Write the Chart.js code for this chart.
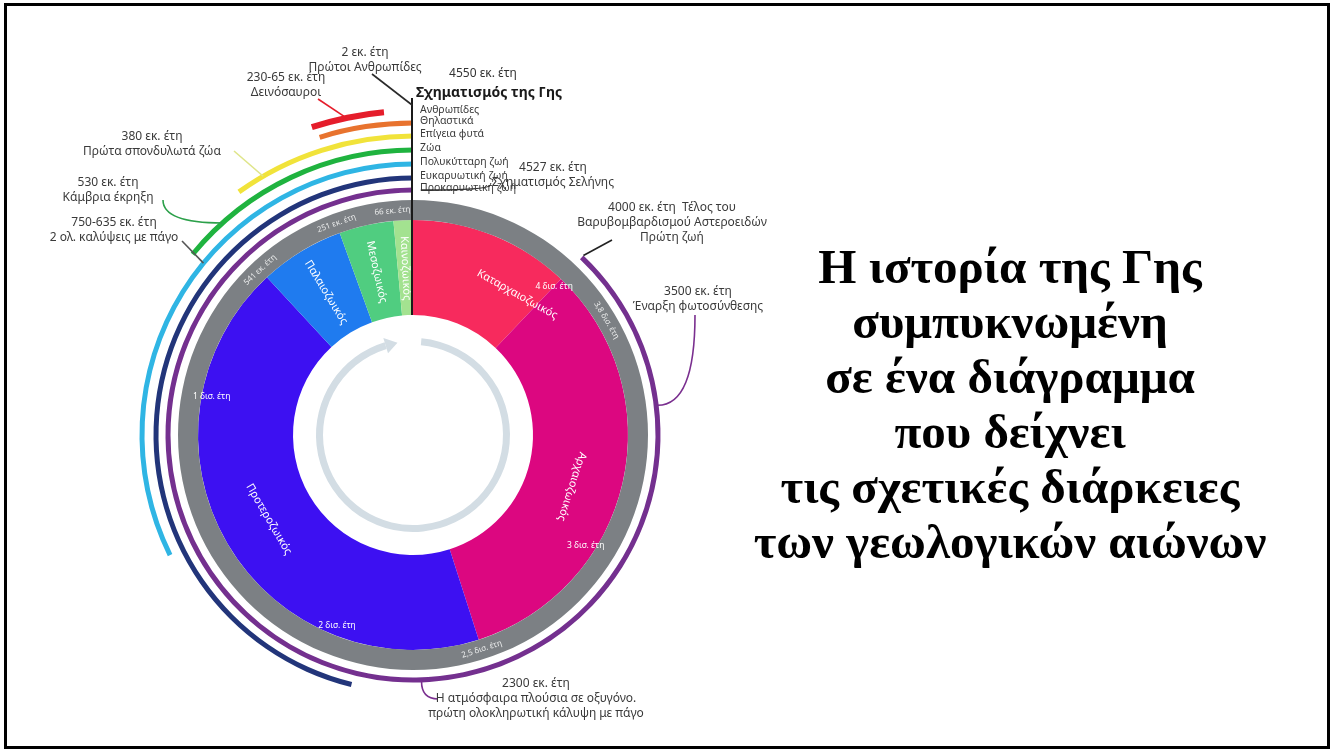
<!DOCTYPE html>
<html lang="el">
<head>
<meta charset="utf-8">
<title>Η ιστορία της Γης</title>
<script src="https://cdn.jsdelivr.net/npm/chart.js@4.4.1/dist/chart.umd.min.js"></script>
<style>
  html, body { margin: 0; padding: 0; background: #fff; overflow: hidden; }
  body { width: 1333px; height: 751px; position: relative; }
  #clock { position: absolute; left: 0; top: 0; }
  #title {
    position: absolute; left: 700px; top: 239px; width: 620px;
    text-align: center; color: #000;
    font: bold 49px "Liberation Serif", "Times New Roman", serif;
    line-height: 55px;
  }
  #frame {
    position: absolute; left: 4px; top: 3px; width: 1326px; height: 746px;
    box-sizing: border-box; border: 3px solid #000; pointer-events: none;
  }
</style>
</head>
<body>
<canvas id="clock" width="826" height="870"></canvas>
<div id="title"></div>
<div id="frame"></div>
<script>
// time runs clockwise from the top: 4550 million years ago -> today
const earthAgeMa = 4550;

const eonNames = ['Καταρχαιοζωικός', 'Αρχαιοζωικός', 'Προτεροζωικός', 'Παλαιοζωικός', 'Μεσοζωικός', 'Καινοζωικός'];
const eonStartMa = [4550, 4000, 2500, 541, 252, 66];
const eonEndMa = [4000, 2500, 541, 252, 66, 0];
const eonColors = ['#f72a5d', '#dc0780', '#3d10f2', '#1f7bef', '#50cd80', '#a3e290'];

// life arcs, outer to inner, each runs from its origin to today
const lifeNames = ['Θηλαστικά', 'Επίγεια φυτά', 'Ζώα', 'Πολυκύτταρη ζωή', 'Ευκαρυωτική ζωή', 'Προκαρυωτική ζωή'];
const lifeOriginMa = [220, 450, 640, 1470, 2100, 4000];
const lifeColors = ['#e8732e', '#f1e33a', '#1fb33f', '#2fb5e4', '#22357a', '#74308f'];

const dinoMa = [230, 65];
const hominidMa = 2;

const innerTickMa = [4000, 3000, 2000, 1000];
const innerTickLabels = ['4 δισ. έτη', '3 δισ. έτη', '2 δισ. έτη', '1 δισ. έτη'];
const ringTickMa = [3800, 2500, 541, 251, 66];
const ringTickLabels = ['3,8 δισ. έτη', '2,5 δισ. έτη', '541 εκ. έτη', '251 εκ. έτη', '66 εκ. έτη'];

const titleLines = ['Η ιστορία της Γης', 'συμπυκνωμένη', 'σε ένα διάγραμμα', 'που δείχνει', 'τις σχετικές διάρκειες', 'των γεωλογικών αιώνων'];

document.getElementById('title').innerHTML = titleLines.map(t => '<div>' + t + '</div>').join('');

const clear = 'rgba(0,0,0,0)';
const ring = (label, data, colors, weight) => ({ label, data, backgroundColor: colors, weight, borderWidth: 0 });
const spacer = w => ring('gap', [1], [clear], w);

const lifeGaps = [8, 9, 9, 9, 7, 7.5];
const datasets = [
  ring('dino', [earthAgeMa - dinoMa[0], dinoMa[0] - dinoMa[1], dinoMa[1]], [clear, '#e51d2b', clear], 6),
  spacer(6.5)
];
lifeNames.forEach((n, i) => {
  datasets.push(ring('life' + i, [earthAgeMa - lifeOriginMa[i], lifeOriginMa[i]], [clear, lifeColors[i]], 5));
  datasets.push(spacer(lifeGaps[i]));
});
datasets.push(ring('ticks', [earthAgeMa], ['#7c8084'], 20));
datasets.push(ring('eons', eonStartMa.map((s, i) => s - eonEndMa[i]), eonColors, 95));
datasets.push(spacer(23));
datasets.push(ring('arrow', [5, 338, 17], [clear, '#d3dde4', clear], 7));

// annotations: text lines, their centre, and the arc/time their leader points to
const notes = [
  { lines: ['2 εκ. έτη', 'Πρώτοι Ανθρωπίδες'], x: 365, y: 53, from: [372, 74], ring: 'dino', ma: hominidMa, dr: 6, color: '#2a2a2a' },
  { lines: ['230-65 εκ. έτη', 'Δεινόσαυροι'], x: 286, y: 78, from: [318, 99], ring: 'dino', ma: 150, dr: 0, color: '#e51d2b' },
  { lines: ['380 εκ. έτη', 'Πρώτα σπονδυλωτά ζώα'], x: 152, y: 137, from: [234, 151], ring: 'life1', ma: 380, dr: 0, color: '#dfe58a' },
  { lines: ['530 εκ. έτη', 'Κάμβρια έκρηξη'], x: 108, y: 183, from: [163, 200], ring: 'life2', ma: 530, dr: 0, color: '#2ca04a', bend: true },
  { lines: ['750-635 εκ. έτη', '2 ολ. καλύψεις με πάγο'], x: 114, y: 223, from: [182, 241], ring: 'life3', ma: 640, dr: 0, color: '#555' },
  { lines: ['4527 εκ. έτη', 'Σχηματισμός Σελήνης'], x: 553, y: 168, from: [490, 185], ring: 'life5', ma: 4527, dr: 0, color: '#333', bend: true },
  { lines: ['4000 εκ. έτη  Τέλος του', 'Βαρυβομβαρδισμού Αστεροειδών', 'Πρώτη ζωή'], x: 672, y: 208, from: [612, 240], ring: 'life5', ma: 4000, dr: 3, color: '#222' },
  { lines: ['3500 εκ. έτη', 'Έναρξη φωτοσύνθεσης'], x: 698, y: 292, from: [695, 315], ring: 'life5', ma: 3500, dr: 2, color: '#7a2f8f', bend: true },
  { lines: ['2300 εκ. έτη', 'Η ατμόσφαιρα πλούσια σε οξυγόνο.', 'πρώτη ολοκληρωτική κάλυψη με πάγο'], x: 536, y: 684, from: [438, 699], ring: 'life5', ma: 2300, dr: 2, color: '#7a2f8f', bend: true, flip: true }
];

// how each eon name sits in its wedge
const eonLabelAlign = ['left', 'center', 'center', 'center', 'center', 'center'];
const eonLabelNudge = [0, 0.09, 0, 0, 0, 0];
const eonLabelTilt = [0.13, 0, 0, 0, 0, 0];

const overlay = {
  id: 'overlay',
  afterDatasetsDraw(chart) {
    const ctx = chart.ctx;
    const el = {};
    chart.data.datasets.forEach((d, i) => { if (d.label !== 'gap') el[d.label] = chart.getDatasetMeta(i).data; });
    const e0 = el.eons[0];
    const cx = e0.x, cy = e0.y;
    const clockAng = ma => (earthAgeMa - ma) / earthAgeMa * Math.PI * 2;
    const pt = (ma, r) => { const a = clockAng(ma); return [cx + r * Math.sin(a), cy - r * Math.cos(a)]; };
    const midR = a => (a.innerRadius + a.outerRadius) / 2;

    ctx.save();
    ctx.textAlign = 'center';
    ctx.textBaseline = 'middle';

    // arrow head on the inner ring
    const ar = el.arrow[1];
    const rm = midR(ar);
    const a0 = ar.endAngle, a1 = ar.endAngle + 0.13;
    ctx.fillStyle = '#d3dde4';
    ctx.beginPath();
    ctx.moveTo(cx + (rm + 8) * Math.cos(a0), cy + (rm + 8) * Math.sin(a0));
    ctx.lineTo(cx + rm * Math.cos(a1), cy + rm * Math.sin(a1));
    ctx.lineTo(cx + (rm - 8) * Math.cos(a0), cy + (rm - 8) * Math.sin(a0));
    ctx.closePath();
    ctx.fill();

    // eon names: along the ring for wide eons, across it for narrow ones
    ctx.fillStyle = '#fff';
    ctx.font = '11px "Noto Sans", sans-serif';
    el.eons.forEach((a, i) => {
      const span = a.endAngle - a.startAngle;
      const th = (a.startAngle + a.endAngle) / 2 + Math.PI / 2 + eonLabelNudge[i];
      const r = i === 0 ? 175 : 167;
      const rot = (span > 0.6 ? (th < Math.PI ? th : th - Math.PI) : th - Math.PI * 1.5) + eonLabelTilt[i];
      ctx.save();
      ctx.translate(cx + r * Math.sin(th), cy - r * Math.cos(th));
      ctx.rotate(rot);
      ctx.textAlign = eonLabelAlign[i];
      ctx.fillText(eonNames[i], 0, 0);
      ctx.restore();
    });

    // time marks inside the eons
    ctx.font = '8.5px "Noto Sans", sans-serif';
    innerTickMa.forEach((ma, i) => {
      const p = pt(ma, 205);
      ctx.fillText(innerTickLabels[i], p[0], p[1]);
    });

    // time marks on the grey band
    ctx.fillStyle = 'rgba(255,255,255,0.85)';
    ctx.font = '8px "Noto Sans", sans-serif';
    const rt = midR(el.ticks[0]);
    ringTickMa.forEach((ma, i) => {
      const th = clockAng(ma);
      const p = pt(ma, rt);
      const rot = (th < Math.PI / 2 || th > Math.PI * 1.5) ? th : th - Math.PI;
      ctx.save();
      ctx.translate(p[0], p[1]);
      ctx.rotate(rot);
      ctx.fillText(ringTickLabels[i], 0, 0);
      ctx.restore();
    });

    // start line at 4550 Ma
    ctx.strokeStyle = '#1a1a1a';
    ctx.lineWidth = 2;
    ctx.beginPath();
    ctx.moveTo(cx - 1, cy - el.dino[1].outerRadius - 10);
    ctx.lineTo(cx - 1, cy - e0.innerRadius);
    ctx.stroke();

    // arc names next to the start line
    ctx.textAlign = 'left';
    ctx.fillStyle = '#3a3a3a';
    ctx.font = '10.5px "Noto Sans", sans-serif';
    ctx.fillText('Ανθρωπίδες', cx + 7, cy - midR(el.dino[1]) - 1);
    lifeNames.forEach((n, i) => {
      ctx.fillText(n, cx + 7, cy - midR(el['life' + i][1]) - 2);
    });

    // Earth formation
    ctx.textAlign = 'center';
    ctx.fillStyle = '#333';
    ctx.font = '12px "Noto Sans", sans-serif';
    ctx.fillText('4550 εκ. έτη', 483, 74);
    ctx.fillStyle = '#1a1a1a';
    ctx.font = 'bold 14px "Noto Sans", sans-serif';
    ctx.fillText('Σχηματισμός της Γης', 489, 93);

    // annotations with leaders
    notes.forEach(n => {
      const arc = el[n.ring][n.ring === 'dino' && n.ma === hominidMa ? 0 : 1];
      const r = n.dr > 0 ? arc.outerRadius + n.dr - 3 : midR(arc);
      const p = pt(n.ma, r);
      ctx.strokeStyle = n.color;
      ctx.lineWidth = 1.6;
      ctx.beginPath();
      ctx.moveTo(n.from[0], n.from[1]);
      if (n.bend) {
        const c = n.flip ? [p[0], n.from[1]] : [n.from[0], p[1]];
        ctx.quadraticCurveTo(c[0], c[1], p[0], p[1]);
      } else {
        ctx.lineTo(p[0], p[1]);
      }
      ctx.stroke();
      ctx.fillStyle = '#3a3a3a';
      ctx.font = '12px "Noto Sans", sans-serif';
      n.lines.forEach((t, k) => ctx.fillText(t, n.x, n.y + k * 15));
    });

    ctx.restore();
  }
};

new Chart(document.getElementById('clock'), {
  type: 'doughnut',
  data: { labels: eonNames, datasets },
  options: {
    responsive: false,
    maintainAspectRatio: false,
    animation: false,
    events: [],
    cutout: 90,
    rotation: 0,
    circumference: 360,
    layout: { padding: { left: 86, right: 86, top: 108, bottom: 108 } },
    plugins: { legend: { display: false }, tooltip: { enabled: false } }
  },
  plugins: [overlay]
});
</script>
</body>
</html>
